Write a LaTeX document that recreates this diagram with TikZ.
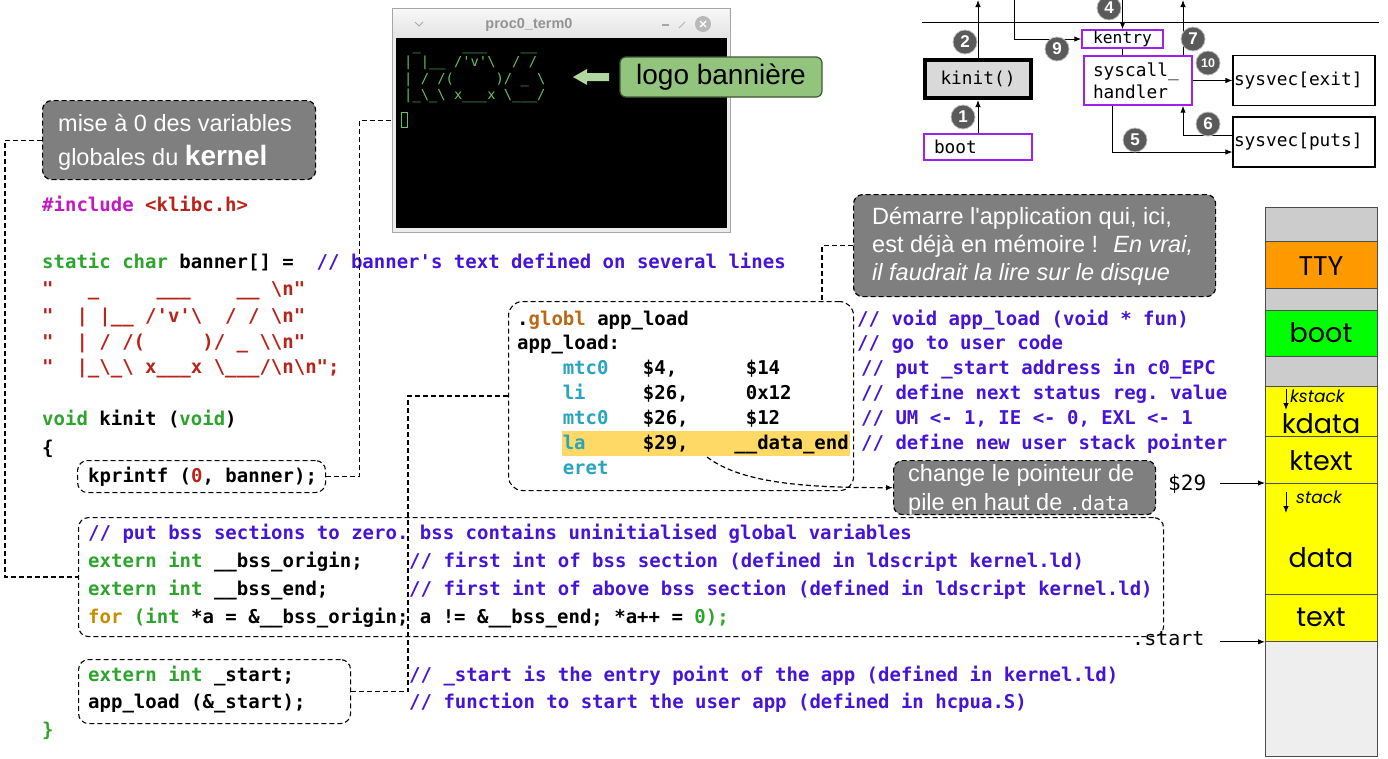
\documentclass[tikz,border=0pt]{standalone}
\usepackage{fontspec}
\setmainfont{Liberation Sans}
\setmonofont{DejaVu Sans Mono}
\newfontfamily\gothic{Poppins}
\usetikzlibrary{arrows.meta}
\definecolor{cgreen}{RGB}{45,165,45}
\definecolor{cred}{RGB}{185,35,25}
\definecolor{cmag}{RGB}{195,25,195}
\definecolor{cblue}{RGB}{70,20,215}
\definecolor{cgold}{RGB}{200,140,0}
\definecolor{cteal}{RGB}{40,165,190}
\definecolor{cbrown}{RGB}{185,105,20}
\definecolor{hl}{RGB}{255,217,102}
\definecolor{callgray}{RGB}{127,127,127}
\definecolor{logogreen}{RGB}{146,196,125}
\definecolor{logoborder}{RGB}{60,90,50}
\definecolor{logoarrow}{RGB}{178,214,160}
\definecolor{purp}{RGB}{160,32,240}
\definecolor{numgray}{RGB}{90,90,90}
\definecolor{termgreen}{RGB}{95,195,95}
\definecolor{ttyorange}{RGB}{255,153,0}
\definecolor{bootgreen}{RGB}{0,255,0}
\definecolor{memyellow}{RGB}{255,255,0}
\definecolor{memgray}{RGB}{204,204,204}
\definecolor{memlight}{RGB}{238,238,238}
\newcommand\cf{\ttfamily\bfseries\fontsize{19}{22}\selectfont}
\newcommand\calfont{\normalfont\fontsize{23.5}{28}\selectfont}
\newcommand\dgfont{\ttfamily\fontsize{17.8}{22}\selectfont}
\newcommand\bsl{\textbackslash}
\newcommand\cG[1]{\textcolor{cgreen}{#1}}
\newcommand\cR[1]{\textcolor{cred}{#1}}
\newcommand\cM[1]{\textcolor{cmag}{#1}}
\newcommand\cB[1]{\textcolor{cblue}{#1}}
\newcommand\cY[1]{\textcolor{cgold}{#1}}
\newcommand\cT[1]{\textcolor{cteal}{#1}}
\newcommand\cN[1]{\textcolor{cbrown}{#1}}
\begin{document}
\begin{tikzpicture}[x=1pt,y=-1pt,
  >={Latex[length=7pt,width=5.5pt]},
  code/.style={anchor=base west, inner sep=0pt, font=\cf},
  ctext/.style={anchor=base west, inner sep=0pt, font=\calfont, text=white},
  dline/.style={draw=black, dash pattern=on 5pt off 3pt, line width=1.2pt},
  callout/.style={draw=black, fill=callgray, dash pattern=on 5pt off 3pt, line width=1.2pt, rounded corners=9pt, inner sep=0pt, anchor=north west},
  cbox/.style={draw=black, dash pattern=on 5pt off 3pt, line width=1.1pt, rounded corners=10pt, inner sep=0pt, anchor=north west},
  pbox/.style={draw=purp, line width=1.4pt, inner sep=0pt, font=\dgfont},
  bbox/.style={draw=black, line width=1.2pt, inner sep=0pt, font=\dgfont},
  num/.style={circle, fill=numgray, draw=gray!50, line width=0.8pt, text=white, font=\bfseries\fontsize{17}{17}\selectfont, inner sep=0pt, minimum size=24pt},
  seg/.style={anchor=north west, minimum width=112pt, inner sep=0pt, draw=black!70, line width=0.8pt},
  mlab/.style={font=\gothic\fontsize{27}{27}\selectfont, inner sep=0pt},
  art/.style={anchor=base west, inner sep=0pt, text=termgreen, font=\ttfamily\fontsize{13.8}{14}\selectfont}
]
\useasboundingbox (0,0) rectangle (1388,758);
\fill[white] (0,0) rectangle (1388,758);

% ---------- callout: mise a 0 ----------
\node[callout, minimum width=273pt, minimum height=79pt] (mise) at (42,100) {};
\node[ctext] (mise1) at (58,131.5) {mise à 0 des variables};
\node[ctext] (mise2) at (58,165.5) {globales du {\bfseries\fontsize{28}{28}\selectfont kernel}};

% ---------- left code ----------
\node[code] (l1) at (42,211.5) {\cM{\#include} \cR{<klibc.h>}};
\node[code] (l2) at (42,268.5) {\cG{static char} banner[] =~~\cB{// banner's text defined on several lines}};
\node[code] (l3) at (42,295.5) {\cR{"~~~\_~~~~~\_\_\_~~~~\_\_~\bsl n"}};
\node[code] (l4) at (42,322.5) {\cR{"~~|~|\_\_~/'v'\bsl~~/~/~\bsl n"}};
\node[code] (l5) at (42,348.5) {\cR{"~~|~/~/(~~~~~)/~\_~\bsl\bsl n"}};
\node[code] (l6) at (42,373.5) {\cR{"~~|\_\bsl\_\bsl~x\_\_\_x~\bsl\_\_\_/\bsl n\bsl n";}};
\node[code] (l7) at (42,425.5) {\cG{void} kinit (\cG{void})};
\node[code] (l8) at (42,454.5) {\{};
\node[cbox, minimum width=248pt, minimum height=32pt] (kpf) at (77,460) {};
\node[code] (l9) at (88,482.5) {kprintf (\cR{0}, banner);};

% ---------- bss box ----------
\node[cbox, minimum width=1085pt, minimum height=119pt] (bss) at (78,517) {};
\node[code] (b1) at (88,539.5) {\cB{// put bss sections to zero. bss contains uninitialised global variables}};
\node[code] (b2) at (88,567.5) {\cG{extern int} \_\_bss\_origin;};
\node[code] (b2c) at (409,567.5) {\cB{// first int of bss section (defined in ldscript kernel.ld)}};
\node[code] (b3) at (88,595.5) {\cG{extern int} \_\_bss\_end;};
\node[code] (b3c) at (409,595.5) {\cB{// first int of above bss section (defined in ldscript kernel.ld)}};
\node[code] (b4) at (88,623.5) {\cY{for} \cG{(int} *a = \&\_\_bss\_origin; a != \&\_\_bss\_end; *a++ = \cG{0);}};

% ---------- app_load call ----------
\node[cbox, minimum width=272pt, minimum height=64pt] (call) at (78,659) {};
\node[code] (b5) at (88,681.5) {\cG{extern int} \_start;};
\node[code] (b5c) at (409,681.5) {\cB{// \_start is the entry point of the app (defined in kernel.ld)}};
\node[code] (b6) at (88,708.5) {app\_load (\&\_start);};
\node[code] (b6c) at (409,708.5) {\cB{// function to start the user app (defined in hcpua.S)}};
\node[code] (b7) at (42,736.5) {\cG{\}}};

% ---------- terminal ----------
\node[draw=gray!70, fill=gray!15, line width=1pt, anchor=north west, minimum width=338pt, minimum height=224pt, inner sep=0pt] (term) at (392,8) {};
\shade[top color=gray!6, bottom color=gray!22] (393,9) rectangle (729,38);
\fill[black] (396,38) rectangle (727,228);
\node[font=\bfseries\fontsize{14.5}{14.5}\selectfont, text=gray!85] (ttl) at (529,25) {proc0\_term0};
\draw[gray!70, line width=1pt] (415,22) -- (419,26) -- (423,22);
\draw[gray!70, line width=1.2pt] (662,25) -- (669,25);
\draw[gray!60, line width=1pt] (679,28) -- (685,22);
\fill[gray!55] (703,24) circle (8);
\draw[white, line width=1.4pt] (700,21) -- (706,27) (700,27) -- (706,21);
\node[art] (t1) at (404,50) {~\_~~~~~\_\_\_~~~~\_\_};
\node[art] (t2) at (404,66.5) {|~|\_\_~/'v'\bsl~~/~/};
\node[art] (t3) at (404,83) {|~/~/(~~~~~)/~\_~\bsl};
\node[art] (t4) at (404,99.5) {|\_\bsl\_\bsl~x\_\_\_x~\bsl\_\_\_/};
\draw[termgreen, line width=1pt] (401,112) rectangle (407,127);

% logo banniere
\fill[logoarrow] (573,77) -- (587,69) -- (587,73) -- (609,73) -- (609,81) -- (587,81) -- (587,85) -- cycle;
\node[draw=logoborder, fill=logogreen, line width=1.2pt, rounded corners=6pt, minimum width=202pt, minimum height=40pt, inner sep=0pt, font=\fontsize{28}{28}\selectfont] (logo) at (721,77) {logo bannière};

% ---------- asm box ----------
\fill[hl] (562,431) rectangle (850,456);
\node[cbox, minimum width=345pt, minimum height=189pt, rounded corners=14pt] (asm) at (508,301) {};
\node[code] (a1) at (517,325.5) {.\cN{globl} app\_load};
\node[code] (a2) at (517,349.5) {app\_load:};
\node[code] (a3) at (562.6,374.5) {\cT{mtc0}~~~\$4,~~~~~~\$14};
\node[code] (a4) at (562.6,399.5) {\cT{li}~~~~~\$26,~~~~~0x12};
\node[code] (a5) at (562.6,424.5) {\cT{mtc0}~~~\$26,~~~~~\$12};
\node[code] (a6) at (562.6,449.5) {\cT{la}~~~~~\$29,~~~~\_\_data\_end};
\node[code] (a7) at (562.6,474.5) {\cT{eret}};
\coordinate (dend) at (707,457);

\node[code] (r1) at (857,325.5) {\cB{// void app\_load (void * fun)}};
\node[code] (r2) at (857,349.5) {\cB{// go to user code}};
\node[code] (r3) at (861,374.5) {\cB{// put \_start address in c0\_EPC}};
\node[code] (r4) at (861,399.5) {\cB{// define next status reg. value}};
\node[code] (r5) at (861,424.5) {\cB{// UM <- 1, IE <- 0, EXL <- 1}};
\node[code] (r6) at (861,449.5) {\cB{// define new user stack pointer}};

% ---------- callout: Demarre ----------
\node[callout, minimum width=362pt, minimum height=102pt] (dem) at (853,194) {};
\node[ctext] (dem1) at (872,224.5) {Démarre l\textquotesingle application qui, ici,};
\node[ctext] (dem2) at (872,252.5) {est déjà en mémoire !~ \textit{En vrai,}};
\node[ctext] (dem3) at (872,280.5) {\textit{il faudrait la lire sur le disque}};

% ---------- callout: change ----------
\node[callout, minimum width=262pt, minimum height=54pt] (chg) at (893,460) {};
\node[ctext] (chg1) at (908,481.5) {change le pointeur de};
\node[ctext] (chg2) at (908,510.5) {pile en haut de {\ttfamily\fontsize{20}{20}\selectfont .data}};

% ---------- memory column ----------
\node[seg, fill=memgray, minimum height=34pt] (m0) at (1265,207) {};
\node[seg, fill=ttyorange, minimum height=47pt] (mtty) at (1265,241) {};
\node[seg, fill=memgray, minimum height=22pt] (m1) at (1265,288) {};
\node[seg, fill=bootgreen, minimum height=46pt] (mboot) at (1265,310) {};
\node[seg, fill=memgray, minimum height=30pt] (m2) at (1265,356) {};
\node[seg, fill=memyellow, minimum height=50pt] (mkdata) at (1265,386) {};
\node[seg, fill=memyellow, minimum height=47pt] (mktext) at (1265,436) {};
\node[seg, fill=memyellow, minimum height=111pt] (mdata) at (1265,483) {};
\node[seg, fill=memyellow, minimum height=47pt] (mtext) at (1265,594) {};
\node[seg, fill=memlight, minimum height=115pt] (m3) at (1265,641) {};
\node[mlab] (lt) at (1321,266) {TTY};
\node[mlab] (lb) at (1321,333) {boot};
\node[mlab] (lkd) at (1321,424) {kdata};
\node[mlab] (lkt) at (1321,461) {ktext};
\node[mlab] (ld) at (1321,558) {data};
\node[mlab] (ltx) at (1321,617) {text};
\node[anchor=base west, inner sep=0pt, font=\gothic\itshape\fontsize{17}{17}\selectfont] (lks) at (1290,402) {kstack};
\draw[->, line width=1pt] (1286,389) -- (1286,410);
\node[anchor=base west, inner sep=0pt, font=\gothic\itshape\fontsize{17}{17}\selectfont] (lst) at (1296,503) {stack};
\draw[->, line width=1pt] (1286,492) -- (1286,513);

\node[anchor=base west, inner sep=0pt, font=\ttfamily\fontsize{21}{21}\selectfont] (r29) at (1168,490) {\$29};
\draw[->, line width=1pt] (mdata.north west -| 1220,0) -- (mdata.north west);
\node[anchor=base west, inner sep=0pt, font=\ttfamily\fontsize{20}{20}\selectfont] (rst) at (1132,645) {.start};
\draw[->, line width=1pt] (mtext.south west -| 1220,0) -- (mtext.south west);

% ---------- top-right diagram ----------
\draw[line width=1pt] (922,22.5) -- (1379,22.5);
\node[draw=black, line width=4pt, fill=gray!30, minimum width=106pt, minimum height=38pt, inner sep=0pt, font=\dgfont] (kinit) at (978,79) {kinit()};
\node[pbox, minimum width=108pt, minimum height=26pt, text width=88pt, align=left] (boot) at (978,147) {boot};
\node[pbox, minimum width=81pt, minimum height=18pt, font=\ttfamily\fontsize{16.3}{18}\selectfont] (kentry) at (1122.5,39) {kentry};
\node[pbox, minimum width=108pt, minimum height=49pt, text width=90pt, align=left, font=\ttfamily\fontsize{17.8}{22}\selectfont] (handler) at (1138,80.5) {syscall\_\\handler};
\coordinate (hc) at (1136,80.5);
\node[bbox, minimum width=142pt, minimum height=50pt, text width=140pt, align=left] (exit) at (1304,80.5) {sysvec[exit]};
\node[bbox, minimum width=142pt, minimum height=50pt, text width=140pt, align=left] (puts) at (1304,142) {sysvec[puts]};
\coordinate (top2) at (978,0);
\coordinate (top4) at (1122.5,0);
\coordinate (top9) at (1014,0);
\coordinate (top7) at (1183,0);
\draw[->, line width=1pt] (boot.north) -- (kinit.south);
\draw[->, line width=1pt] (kinit.north) -- (top2);
\draw[->, line width=1pt] (top4) -- (kentry.north);
\draw[line width=1pt] (kentry.south) -- (kentry.south |- handler.north);
\draw[->, line width=1pt] (top9) |- (kentry.west);
\draw[->, line width=1pt] (top7 |- handler.north) -- (top7);
\draw[->, line width=1pt] (handler.east) -- (exit.west);
\draw[->, line width=1pt] ([xshift=-26pt]handler.south) |- ([yshift=-10pt]puts.west);
\draw[->, line width=1pt] ([yshift=7pt]puts.west) -| ([xshift=45pt]handler.south);
\node[num] (n1) at (963,117) {1};
\node[num] (n2) at (965,42) {2};
\node[num] (n4) at (1109,8) {4};
\node[num] (n9) at (1057,49) {9};
\node[num] (n7) at (1193,39) {7};
\node[num, font=\bfseries\fontsize{12.5}{12.5}\selectfont] (n10) at (1208,63) {10};
\node[num] (n5) at (1135,140) {5};
\node[num] (n6) at (1208,124) {6};

% ---------- dashed connectors ----------
\draw[dline] (mise.west) -- ++(-37,0) |- (bss.west);
\draw[dline] (kpf.east) -- ++(33,0) |- (term.west);
\draw[dline] (dem.west) -- ++(-31,0) coordinate (dk) -- (dk |- asm.north);
\draw[dline] (asm.west) -- ++(-100,0) |- (call.east);
\draw[dline, ->] (dend) .. controls (740,482) and (800,488) .. (chg.west);
\end{tikzpicture}
\end{document}
